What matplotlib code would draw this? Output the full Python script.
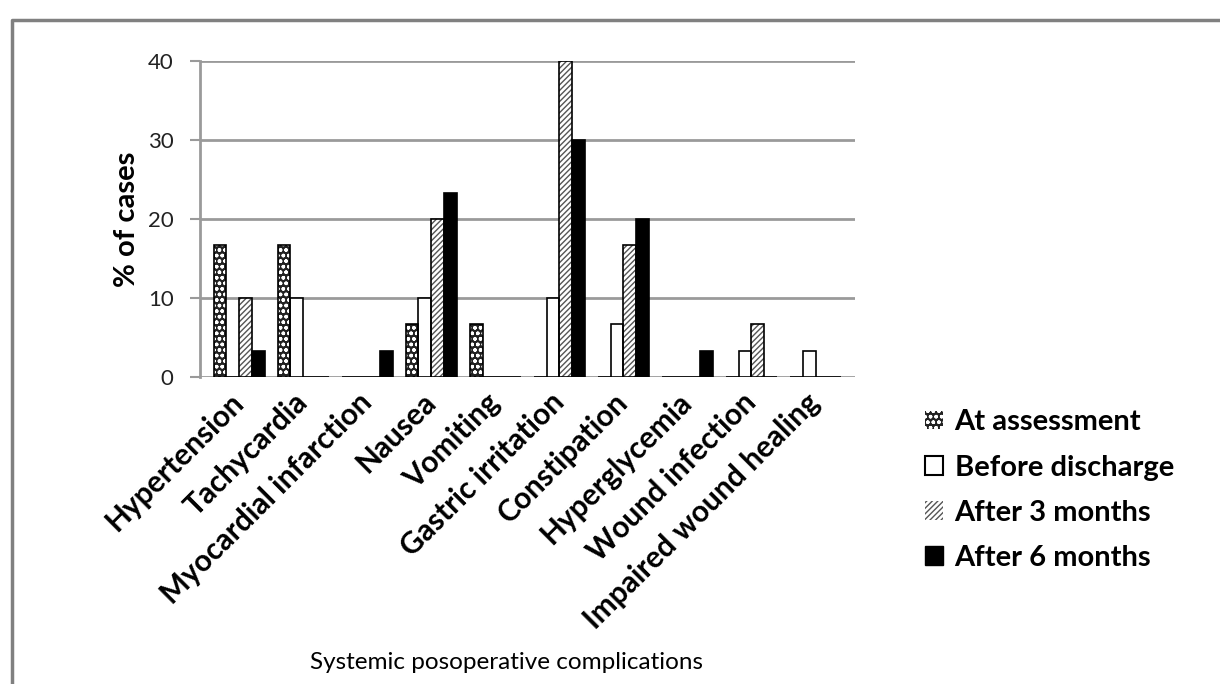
import numpy as np
import matplotlib
matplotlib.use("Agg")
import matplotlib.pyplot as plt
from matplotlib.patches import Patch
from matplotlib.lines import Line2D

plt.rcParams['font.family'] = ['Lato', 'DejaVu Sans']

categories = ['Hypertension', 'Tachycardia', 'Myocardial infarction', 'Nausea', 'Vomiting',
              'Gastric irritation', 'Constipation', 'Hyperglycemia', 'Wound infection',
              'Impaired wound healing']
series_names = ['At assessment', 'Before discharge', 'After 3 months', 'After 6 months']
at_assessment = [16.7, 16.7, 0, 6.7, 6.7, 0, 0, 0, 0, 0]
before_discharge = [0, 10, 0, 10, 0, 10, 6.7, 0, 3.3, 3.3]
after_3_months = [10, 0, 0, 20, 0, 40, 16.7, 0, 6.7, 0]
after_6_months = [3.3, 0, 3.3, 23.3, 0, 30, 20, 3.3, 0, 0]
yticks = [0, 10, 20, 30, 40]

series = [at_assessment, before_discharge, after_3_months, after_6_months]
# (face, hatch, hatch colour)
styles = [('#222222', 'ooo', 'white'),
          ('white', None, 'black'),
          ('white', '//////', '#555555'),
          ('black', None, 'black')]

fig = plt.figure(figsize=(12.2, 6.84), dpi=100)
ax = fig.add_axes([0.164, 0.449, 0.537, 0.462])

x = np.arange(len(categories))
w = 0.2
for i, (vals, (fc, hatch, hc)) in enumerate(zip(series, styles)):
    pos = x + (i - 1.5) * w
    if hatch:
        ax.bar(pos, vals, w, color=fc, hatch=hatch, edgecolor=hc, linewidth=0, zorder=3)
    else:
        ax.bar(pos, vals, w, color=fc, linewidth=0, zorder=3)
    ax.bar(pos, vals, w, fill=False, edgecolor='black', linewidth=1.2, zorder=4)

ax.set_xlim(-0.61, 9.62)
ax.set_ylim(0, 40)
ax.set_yticks(yticks)
ax.set_yticklabels([str(t) for t in yticks], fontsize=16, color='#222222')
ax.yaxis.grid(True, color='#9a9a9a', linewidth=2)
ax.set_axisbelow(True)
for s in ['top', 'right', 'bottom']:
    ax.spines[s].set_visible(False)
ax.spines['left'].set_color('#9a9a9a')
ax.spines['left'].set_linewidth(2)
ax.tick_params(axis='y', direction='out', length=7, width=1.5, color='#9a9a9a', pad=12)
ax.tick_params(axis='x', length=0, pad=15)
ax.set_xticks(x)
ax.set_xticklabels(categories, rotation=45, ha='right', va='center', rotation_mode='anchor',
                   fontsize=21.5, fontweight='bold')
ax.set_ylabel('% of cases', fontsize=21, fontweight='bold', labelpad=6)

fig.text(0.415, 0.032, 'Systemic posoperative complications', fontsize=17.5,
         ha='center', va='center')

handles = [Patch(facecolor='#222222', hatch='ooo', edgecolor='white', linewidth=0),
           Patch(facecolor='white', edgecolor='black', linewidth=1.5),
           Patch(facecolor='white', hatch='//////', edgecolor='#555555', linewidth=0),
           Patch(facecolor='black', edgecolor='black')]
fig.legend(handles, series_names, loc='upper left', bbox_to_anchor=(0.737, 0.44),
           frameon=False, prop={'size': 21, 'weight': 'bold'}, handlelength=0.6,
           handleheight=0.6, handletextpad=0.4, labelspacing=0.66)

# page frame
fig.add_artist(Line2D([12 / 1220, 12 / 1220, 1.0], [0.0, 1 - 20 / 684, 1 - 20 / 684],
                      transform=fig.transFigure, color='#808080', linewidth=2.5))

fig.savefig('out.png', dpi=100)
